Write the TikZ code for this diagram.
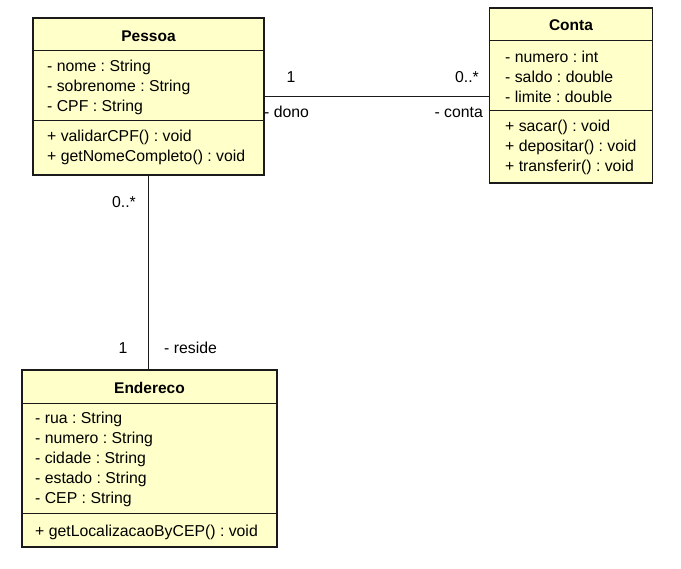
\documentclass[tikz,border=0pt]{standalone}
\usepackage{fontspec}
\setmainfont{Liberation Sans}
\usetikzlibrary{positioning}
\definecolor{umlfill}{HTML}{FFFFCA}
\definecolor{umlline}{HTML}{1A1A1A}
\tikzset{
  % caixa de uma classe
  classbox/.style={draw=umlline, line width=1.6pt, fill=umlfill, inner sep=0pt},
  % nome da classe
  classname/.style={font=\fontsize{15.5}{18}\selectfont\bfseries, inner sep=0pt},
  % atributo ou metodo
  member/.style={anchor=west, inner sep=0pt},
  % separador entre compartimentos
  sepline/.style={line width=0.9pt, umlline},
  % associacao
  assoc/.style={line width=0.9pt, umlline},
  % multiplicidade e papel
  rolelbl/.style={inner sep=0pt},
}
\frenchspacing

\begin{document}
\begin{tikzpicture}[x=1pt, y=-1pt, font=\fontsize{15.8}{18}\selectfont]
  \useasboundingbox (0,0) rectangle (681,569);
  % Pessoa
  \node[classbox, minimum width=231pt, minimum height=157pt] (pessoa) at (148.5,96.5) {};
  \node[classname] (pessoaname) at (148.5,36) {Pessoa};
  \draw[sepline] (pessoa.west |- 0,50) -- (pessoa.east |- 0,50);
  \draw[sepline] (pessoa.west |- 0,120) -- (pessoa.east |- 0,120);
  \foreach \t [count=\i] in {- nome : String, - sobrenome : String, - CPF : String}
    \node[member] (pessoaattr\i) at (47,47+20*\i) {\t};
  \foreach \t [count=\i] in {+ validarCPF() : void, + getNomeCompleto() : void}
    \node[member] (pessoaop\i) at (47,117+20*\i) {\t};

  % Conta
  \node[classbox, minimum width=163pt, minimum height=175pt] (conta) at (571,95.5) {};
  \node[classname] (contaname) at (571,25) {Conta};
  \draw[sepline] (conta.west |- 0,40) -- (conta.east |- 0,40);
  \draw[sepline] (conta.west |- 0,110) -- (conta.east |- 0,110);
  \foreach \t [count=\i] in {- numero : int, - saldo : double, - limite : double}
    \node[member] (contaattr\i) at (505,37+20*\i) {\t};
  \foreach \t [count=\i] in {+ sacar() : void, + depositar() : void, + transferir() : void}
    \node[member] (contaop\i) at (505,107+20*\i) {\t};

  % Endereco
  \node[classbox, minimum width=255pt, minimum height=177pt] (endereco) at (149.5,458.5) {};
  \node[classname] (endereconame) at (149.5,388) {Endereco};
  \draw[sepline] (endereco.west |- 0,403) -- (endereco.east |- 0,403);
  \draw[sepline] (endereco.west |- 0,513) -- (endereco.east |- 0,513);
  \foreach \t [count=\i] in {- rua : String, - numero : String, - cidade : String, - estado : String, - CEP : String}
    \node[member] (enderecoattr\i) at (35,399+20*\i) {\t};
  \node[member] (enderecoop1) at (35,532) {+ getLocalizacaoByCEP() : void};

  % associacoes
  \draw[assoc] (pessoa.east) -- (pessoa.east -| conta.west);
  \draw[assoc] (pessoa.south) -- (pessoa.south |- endereco.north);
  \node[rolelbl] (mdono) at (291,77) {1};
  \node[rolelbl] (mconta) at (467,77) {0..*};
  \node[rolelbl, anchor=west] (rdono) at (264,112) {- dono};
  \node[rolelbl, anchor=east] (rconta) at (483,112) {- conta};
  \node[rolelbl] (mpessoa) at (124,202) {0..*};
  \node[rolelbl] (mendereco) at (123,348) {1};
  \node[rolelbl, anchor=west] (rreside) at (164,348) {- reside};
\end{tikzpicture}
\end{document}
